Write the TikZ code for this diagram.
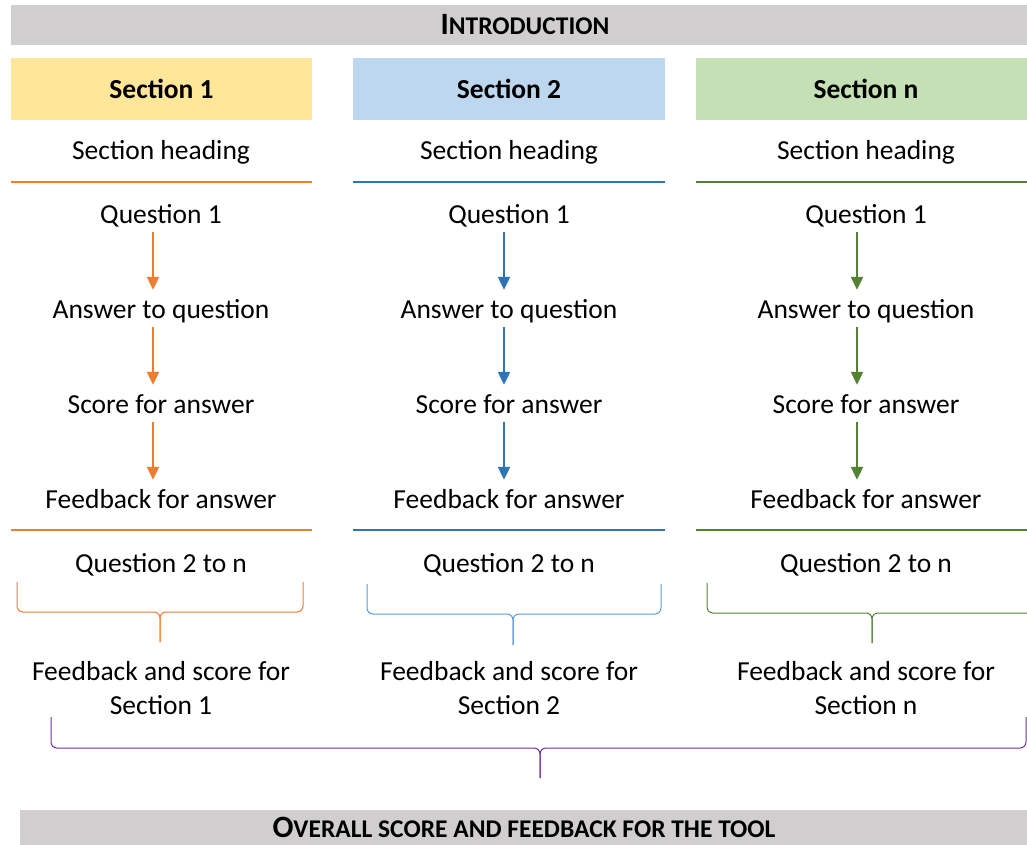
\documentclass[tikz,border=0pt]{standalone}
\usepackage{fontspec}
\setmainfont{Carlito}
\usetikzlibrary{arrows.meta}
\definecolor{bargray}{HTML}{D0CECE}
\definecolor{secyellow}{HTML}{FFE699}
\definecolor{secblue}{HTML}{BDD7EE}
\definecolor{secgreen}{HTML}{C5E0B4}
\definecolor{lorange}{HTML}{ED7D31}
\definecolor{lblue}{HTML}{2E75B6}
\definecolor{bblue}{HTML}{5B9BD5}
\definecolor{lgreen}{HTML}{548235}
\definecolor{bpurple}{HTML}{7030A0}
\newcommand{\capsc}[2]{\textbf{{\fontsize{31}{34}\selectfont #1}{\fontsize{25.5}{28}\selectfont #2}}}
\tikzset{node distance=95pt,
  every node/.style={font=\fontsize{27.5}{34}\selectfont},
  item/.style={text height=18pt,text depth=6pt,inner sep=0pt},
  sechead/.style={minimum height=62pt,inner sep=0pt},
  titlebar/.style={fill=bargray,inner sep=0pt},
  flow/.style={-{Triangle[width=12pt,length=13pt]},line width=2.2pt,shorten <=3pt,shorten >=10pt},
  rule/.style={line width=2pt},
  brace/.style={line width=1pt,rounded corners=6pt}}

\begin{document}
\begin{tikzpicture}[x=1pt,y=-1pt]
          \useasboundingbox (0,0) rectangle (1027,845);

          \node[titlebar,minimum width=1028pt,minimum height=40pt] (INTRO) at (525,25) {\capsc{I}{NTRODUCTION}};
          \fill[bargray] (20,810) rectangle (1030,850);
          \node[inner sep=0pt] (TOTAL) at (524,827) {\capsc{O}{VERALL SCORE AND FEEDBACK FOR THE TOOL}};

          % section 1
          \node[sechead,fill=secyellow,minimum width=301pt] (S1) at (161.5,89) {\textbf{Section 1}};
          \node[item] (H1) at (161,154) {Section heading};
          \node[item] (Q1) at (161,217) {Question 1};
          \node[item] (A1) [below of=Q1] {Answer to question};
          \node[item] (C1) [below of=A1] {Score for answer};
          \node[item] (F1) [below of=C1] {Feedback for answer};
          \node[item] (R1) at (161,566) {Question 2 to n};
          \node[align=center,inner sep=0pt] (T1) at (161,688) {Feedback and score for\\Section 1};

          \draw[rule,lorange] (11,182) -- (312,182);
          \draw[rule,lorange] (11,530) -- (312,530);
          \draw[flow,lorange] ([xshift=-8pt]Q1.south) to ([xshift=-8pt]A1.north);
          \draw[flow,lorange] ([xshift=-8pt]A1.south) to ([xshift=-8pt]C1.north);
          \draw[flow,lorange] ([xshift=-8pt]C1.south) to ([xshift=-8pt]F1.north);
          \draw[brace,lorange] (17,582) -- (17,612) -- (160,612) -- (160,642);
          \draw[brace,lorange] (303,582) -- (303,612) -- (160,612) -- (160,642);

          % section 2
          \node[sechead,fill=secblue,minimum width=312pt] (S2) at (509,89) {\textbf{Section 2}};
          \node[item] (H2) at (509,154) {Section heading};
          \node[item] (Q2) at (509,217) {Question 1};
          \node[item] (A2) [below of=Q2] {Answer to question};
          \node[item] (C2) [below of=A2] {Score for answer};
          \node[item] (F2) [below of=C2] {Feedback for answer};
          \node[item] (R2) at (509,566) {Question 2 to n};
          \node[align=center,inner sep=0pt] (T2) at (509,688) {Feedback and score for\\Section 2};

          \draw[rule,lblue] (353,182) -- (665,182);
          \draw[rule,lblue] (353,530) -- (665,530);
          \draw[flow,lblue] ([xshift=-5pt]Q2.south) to ([xshift=-5pt]A2.north);
          \draw[flow,lblue] ([xshift=-5pt]A2.south) to ([xshift=-5pt]C2.north);
          \draw[flow,lblue] ([xshift=-5pt]C2.south) to ([xshift=-5pt]F2.north);
          \draw[brace,bblue] (367,584) -- (367,614) -- (513,614) -- (513,645);
          \draw[brace,bblue] (661,584) -- (661,614) -- (513,614) -- (513,645);

          % section n
          \node[sechead,fill=secgreen,minimum width=340pt] (S3) at (866,89) {\textbf{Section n}};
          \node[item] (H3) at (866,154) {Section heading};
          \node[item] (Q3) at (866,217) {Question 1};
          \node[item] (A3) [below of=Q3] {Answer to question};
          \node[item] (C3) [below of=A3] {Score for answer};
          \node[item] (F3) [below of=C3] {Feedback for answer};
          \node[item] (R3) at (866,566) {Question 2 to n};
          \node[align=center,inner sep=0pt] (T3) at (866,688) {Feedback and score for\\Section n};

          \draw[rule,lgreen] (696,182) -- (1036,182);
          \draw[rule,lgreen] (696,530) -- (1036,530);
          \draw[flow,lgreen] ([xshift=-9pt]Q3.south) to ([xshift=-9pt]A3.north);
          \draw[flow,lgreen] ([xshift=-9pt]A3.south) to ([xshift=-9pt]C3.north);
          \draw[flow,lgreen] ([xshift=-9pt]C3.south) to ([xshift=-9pt]F3.north);
          \draw[brace,lgreen] (707,583) -- (707,613) -- (872,613) -- (872,643);
          \draw[brace,lgreen] (1037,583) -- (1037,613) -- (872,613) -- (872,643);

          % overall
          \draw[brace,bpurple] (51,717) -- (51,748) -- (540,748) -- (540,778);
          \draw[brace,bpurple] (1026,717) -- (1026,748) -- (540,748) -- (540,778);
        \end{tikzpicture}
\end{document}
